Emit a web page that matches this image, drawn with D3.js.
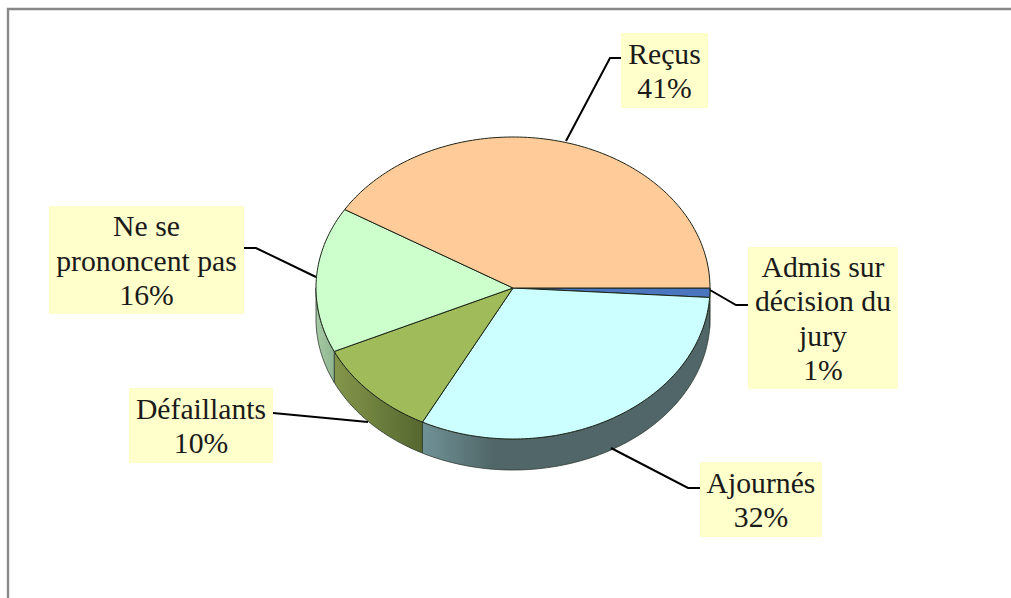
<!DOCTYPE html>
<html>
<head>
<meta charset="utf-8">
<title>Répartition</title>
<script src="https://cdnjs.cloudflare.com/ajax/libs/d3/7.8.5/d3.min.js"></script>
<style>
html, body { margin: 0; padding: 0; background: #fff; overflow: hidden; }
svg { display: block; }
text { font-family: "Liberation Serif", serif; font-size: 29.7px; fill: #1a1a1a; text-anchor: middle; }
</style>
</head>
<body>
<div id="chart"></div>
<script>
// data, in the order the slices run clockwise from the right-hand edge
var categories = ["Admis sur décision du jury", "Ajournés", "Défaillants", "Ne se prononcent pas", "Reçus"];
var percents = [1, 31.6, 10.5, 15.6, 41.3];
var labelLines = [
  ["Admis sur", "décision du", "jury", "1%"],
  ["Ajournés", "32%"],
  ["Défaillants", "10%"],
  ["Ne se", "prononcent pas", "16%"],
  ["Reçus", "41%"]
];

// colours per slice
var topColours = ["#4a76c0", "#ccffff", "#9fbb5a", "#ccffcc", "#ffcc99"];
var sideStops = [
  ["#3a5c96", "#3a5c96"],
  ["#6f9296", "#506668"],
  ["#84964a", "#55672f"],
  ["#a6caa6", "#8fb58f"],
  ["#b08c68", "#b08c68"]
];

// label boxes [x0, y0, x1, y1] and leader polylines, same order as categories
var boxes = [[748, 247, 898, 389], [700, 462, 822, 537], [129, 388, 273, 463], [49, 206, 244, 314], [621, 33, 708, 108]];
var leaders = [
  [[748, 305], [736, 305], [710, 290]],
  [[700, 488], [688, 488], [611, 448]],
  [[273, 413], [368, 422]],
  [[244, 248], [256, 248], [316, 277]],
  [[621, 58], [610, 58], [566, 141]]
];

var width = 1011, height = 598;
var cx = 513, cy = 288, rx = 197, ry = 151, depth = 31;

var svg = d3.select("#chart").append("svg").attr("width", width).attr("height", height);

// frame, top and left edges only
svg.append("path")
  .attr("d", "M8,598V9H1011")
  .attr("fill", "none")
  .attr("stroke", "#888")
  .attr("stroke-width", 2.4);

var x = d3.scaleLinear().domain([-1, 1]).range([cx - rx, cx + rx]);
var y = d3.scaleLinear().domain([-1, 1]).range([cy - ry, cy + ry]);

function px(a) { return x(Math.sin(a)); }
function py(a) { return y(-Math.cos(a)); }

var slices = d3.pie().sort(null).startAngle(Math.PI / 2).endAngle(Math.PI * 2.5)(percents);

function rimAngles(a0, a1) {
  var n = Math.max(2, Math.ceil((a1 - a0) / 0.02));
  return d3.range(n + 1).map(function(i) { return a0 + (a1 - a0) * i / n; });
}

var line = d3.line();
var defs = svg.append("defs");

// side wall, only the front half of the rim shows
var side = svg.append("g");
slices.forEach(function(s, i) {
  var a0 = Math.max(s.startAngle, Math.PI / 2), a1 = Math.min(s.endAngle, Math.PI * 1.5);
  if (a1 <= a0) return;
  var rim = rimAngles(a0, a1);
  var upper = rim.map(function(a) { return [px(a), py(a)]; });
  var lower = rim.slice().reverse().map(function(a) { return [px(a), py(a) + depth]; });
  var xs = upper.map(function(p) { return p[0]; });
  var grad = defs.append("linearGradient")
    .attr("id", "side" + i)
    .attr("gradientUnits", "userSpaceOnUse")
    .attr("x1", d3.max(xs)).attr("x2", d3.min(xs))
    .attr("y1", 0).attr("y2", 0);
  // Ajournés settles to its dark tone early, the light part is only at the left end
  grad.append("stop").attr("offset", 0).attr("stop-color", sideStops[i][1]);
  if (i === 1) grad.append("stop").attr("offset", 0.75).attr("stop-color", sideStops[i][1]);
  grad.append("stop").attr("offset", 1).attr("stop-color", sideStops[i][0]);
  side.append("path")
    .attr("d", line(upper.concat(lower)) + "Z")
    .attr("fill", "url(#side" + i + ")")
    .attr("stroke", "#2f3a30")
    .attr("stroke-width", 0.8)
    .attr("stroke-linejoin", "round");
});

// top face
svg.append("g").selectAll("path")
  .data(slices)
  .enter()
  .append("path")
  .attr("d", function(s) {
    var pts = rimAngles(s.startAngle, s.endAngle).map(function(a) { return [px(a), py(a)]; });
    return line([[cx, cy]].concat(pts)) + "Z";
  })
  .attr("fill", function(s, i) { return topColours[i]; })
  .attr("stroke", "#1c2418")
  .attr("stroke-width", 1)
  .attr("stroke-linejoin", "round");

// leaders
svg.append("g").selectAll("path")
  .data(leaders)
  .enter()
  .append("path")
  .attr("d", function(d) { return line(d); })
  .attr("fill", "none")
  .attr("stroke", "#000")
  .attr("stroke-width", 2);

// label boxes
var labels = svg.append("g").selectAll("g")
  .data(categories)
  .enter()
  .append("g");

labels.append("rect")
  .attr("x", function(d, i) { return boxes[i][0]; })
  .attr("y", function(d, i) { return boxes[i][1]; })
  .attr("width", function(d, i) { return boxes[i][2] - boxes[i][0]; })
  .attr("height", function(d, i) { return boxes[i][3] - boxes[i][1]; })
  .attr("fill", "#ffffcc");

var lineHeight = 34.2;
labels.append("text")
  .attr("aria-label", function(d) { return d; })
  .each(function(d, i) {
    var t = d3.select(this), b = boxes[i], lines = labelLines[i];
    var midX = (b[0] + b[2]) / 2;
    var firstY = (b[1] + b[3]) / 2 - (lines.length - 1) * lineHeight / 2 + 10.5;
    lines.forEach(function(l, j) {
      t.append("tspan")
        .attr("x", midX)
        .attr("y", firstY + j * lineHeight)
        .text(l);
    });
  });
</script>
</body>
</html>
